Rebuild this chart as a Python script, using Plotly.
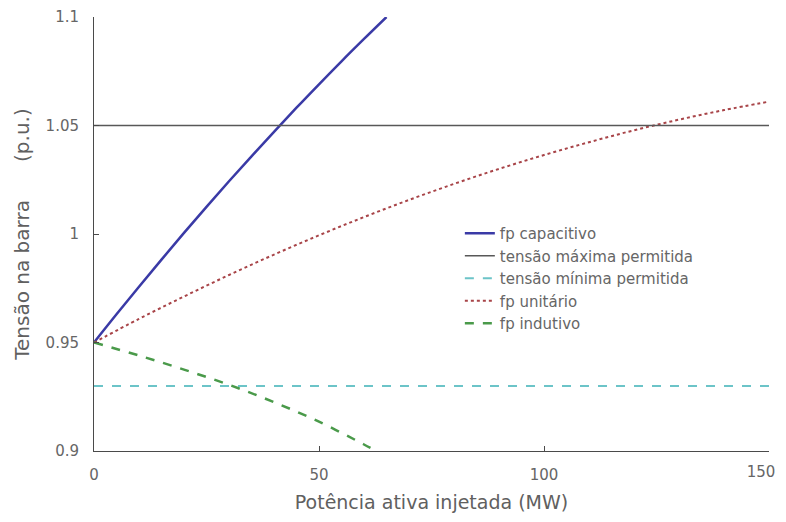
import plotly.graph_objects as go

# Data
x_cap = [0, 5, 10, 15, 20, 25, 30, 35, 40, 45, 50, 55, 60, 65]
y_cap = [0.95, 0.9630, 0.9757, 0.9882, 1.0005, 1.0125, 1.0243, 1.0358, 1.0471,
         1.0582, 1.0690, 1.0796, 1.0899, 1.1]

x_uni = [0, 10, 20, 30, 40, 50, 60, 70, 80, 90, 100, 110, 120, 130, 140, 150]
y_uni = [0.95, 0.9609, 0.9712, 0.9811, 0.9905, 0.9994, 1.0078, 1.0157, 1.0231,
         1.0300, 1.0364, 1.0423, 1.0478, 1.0527, 1.0571, 1.0610]

x_ind = [0, 10, 20, 30, 40, 50, 60, 62.7]
y_ind = [0.95, 0.9440, 0.9375, 0.9305, 0.9225, 0.9135, 0.9030, 0.9]

x_lim = [0, 150]
v_max = [1.05, 1.05]
v_min = [0.93, 0.93]

x_ticks = [0, 50, 100]
x_ticks_edge = [150]
y_ticks = [0.9, 0.95, 1.0, 1.05, 1.1]
y_ticklabels = ["0.9", "0.95", "1", "1.05", "1.1"]

fig = go.Figure()
fig.add_trace(go.Scatter(x=x_cap, y=y_cap, mode="lines", name="fp capacitivo",
                         line=dict(color="#3a3aa6", width=2.5, shape="spline")))
fig.add_trace(go.Scatter(x=x_lim, y=v_max, mode="lines", name="tensão máxima permitida",
                         xaxis="x2", line=dict(color="#585858", width=1.5)))
fig.add_trace(go.Scatter(x=x_lim, y=v_min, mode="lines", name="tensão mínima permitida",
                         line=dict(color="#6cc4c8", width=2, dash="dash")))
fig.add_trace(go.Scatter(x=x_uni, y=y_uni, mode="lines", name="fp unitário",
                         line=dict(color="#a84448", width=2, dash="dot", shape="spline")))
fig.add_trace(go.Scatter(x=x_ind, y=y_ind, mode="lines", name="fp indutivo",
                         line=dict(color="#4a9a4a", width=2.5, dash="dash", shape="spline")))

axis_common = dict(showgrid=False, zeroline=False, linecolor="#4a4a4a",
                   linewidth=1, ticks="inside", ticklen=5, tickcolor="#4a4a4a",
                   tickfont=dict(size=15, color="#666666"), mirror=False, automargin=False)

NB = "\u00a0"

fig.update_layout(
    # page body has an 8px margin, so the figure is sized to fit the 786x522 window
    width=778, height=506,
    margin=dict(l=86, r=17, t=9, b=63),
    paper_bgcolor="white", plot_bgcolor="white",
    font=dict(family="DejaVu Sans, Liberation Sans, sans-serif", color="#666666"),
    xaxis=dict(range=x_lim, tickvals=x_ticks, ticklabelstandoff=10, showline=True,
               title=dict(text="Potência ativa injetada (MW)", font=dict(size=19, color="#606060"), standoff=12),
               **axis_common),
    xaxis2=dict(range=x_lim, tickvals=x_ticks_edge, ticklabelstandoff=10, ticklabelshift=-8,
                overlaying="x", anchor="y", side="bottom", showline=False, **axis_common),
    yaxis=dict(range=[0.9, 1.1], tickvals=y_ticks, ticktext=y_ticklabels, ticklabelstandoff=11,
               showline=True,
               title=dict(text="Tensão na barra" + NB * 6 + "(p.u.)", font=dict(size=20, color="#606060"), standoff=10),
               **axis_common),
    legend=dict(x=0.542, y=0.539, xanchor="left", yanchor="top", bgcolor="rgba(0,0,0,0)",
                font=dict(size=15, color="#666666"), tracegroupgap=0, itemwidth=30),
    showlegend=True,
)

fig.write_html("out.html")
